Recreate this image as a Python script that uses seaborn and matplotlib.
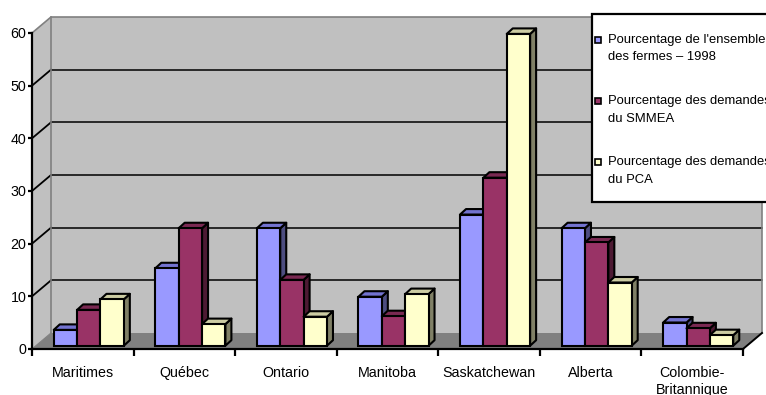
import numpy as np
import pandas as pd
import matplotlib.pyplot as plt
import seaborn as sns
from matplotlib.patches import Polygon, Rectangle

# ------------------------- DONNEES -------------------------

regions = ["Maritimes", "Québec", "Ontario", "Manitoba", "Saskatchewan",
           "Alberta", "Colombie-\nBritannique"]
fermes_1998 = [3.0, 14.7, 22.3, 9.3, 24.9, 22.3, 4.4]
demandes_smmea = [6.8, 22.3, 12.5, 5.6, 31.9, 19.6, 3.3]
demandes_pca = [8.8, 4.1, 5.5, 9.8, 59.2, 12.0, 2.0]
series = ["Pourcentage de l'ensemble\ndes fermes \u2013 1998",
          "Pourcentage des demandes\ndu SMMEA",
          "Pourcentage des demandes\ndu PCA"]
y_ticks = [0, 10, 20, 30, 40, 50, 60]

front_colors = ["#9999FF", "#993366", "#FFFFCC"]
top_colors = ["#7373D0", "#7A2952", "#CCCCA3"]
side_colors = ["#4D4D80", "#4D1A33", "#808066"]

df = pd.DataFrame({
    "region": regions * 3,
    "valeur": fermes_1998 + demandes_smmea + demandes_pca,
    "serie": np.repeat(series, len(regions)),
})

plt.rcParams['font.family'] = ['Liberation Sans', 'DejaVu Sans']

W, H = 766, 395
fig = plt.figure(figsize=(W / 100, H / 100), dpi=100, facecolor="white")
# axe avant : x 32 -> 743 px, y 0 -> 349 px, 60 -> 33 px
ax = fig.add_axes([32 / W, (H - 349) / H, 711 / W, 316 / H])
ax.patch.set_visible(False)

n = len(regions)
px_x = 711 / n
px_y = 316 / 60


def d(dx, dy):
    return dx / px_x, dy / px_y


sns.barplot(data=df, x="region", y="valeur", hue="serie", palette=front_colors,
            width=0.69, saturation=1, edgecolor="black", linewidth=1.5,
            legend=False, ax=ax)
bars = list(ax.patches)

ax.set_xlim(-0.5, n - 0.5)
ax.set_ylim(0, 60)

# ------------------------- PAROIS (effet 3D) -------------------------
wx, wy = d(19, 16)
x_left, x_right = -0.5, n - 0.5

ax.add_patch(Rectangle((x_left + wx, wy), n, 60, facecolor="#C0C0C0",
                       edgecolor="none", clip_on=False, zorder=0))
ax.add_patch(Polygon([(x_left, 0), (x_left, 60), (x_left + wx, 60 + wy), (x_left + wx, wy)],
                     closed=True, facecolor="#C0C0C0", edgecolor="none", clip_on=False, zorder=0))
ax.add_patch(Polygon([(x_left, 0), (x_right, 0), (x_right + wx, wy), (x_left + wx, wy)],
                     closed=True, facecolor="#808080", edgecolor="none", clip_on=False, zorder=0.5))

for v in y_ticks[1:-1]:
    ax.plot([x_left + wx, x_right + wx], [v + wy, v + wy], color="black", lw=1.1,
            clip_on=False, zorder=1)
    ax.plot([x_left, x_left + wx], [v, v + wy], color="black", lw=1.3, clip_on=False, zorder=1)

gray = "#808080"
ax.plot([x_left, x_left + wx, x_right + wx, x_right + wx], [60, 60 + wy, 60 + wy, wy],
        color=gray, lw=1.2, clip_on=False, zorder=1)
ax.plot([x_left + wx, x_left + wx], [wy, 60 + wy], color=gray, lw=1.2, clip_on=False, zorder=1)
ax.plot([x_left, x_left + wx], [0, wy], color=gray, lw=0.8, clip_on=False, zorder=1)
ax.plot([x_right, x_right + wx], [0, wy], color="black", lw=1.4, clip_on=False, zorder=1)

# ------------------------- BARRES 3D -------------------------
sx, sy = d(6, 3.3)
bx, by = d(6, 5.5)
order = sorted(range(len(bars)), key=lambda k: bars[k].get_x())
for rank, k in enumerate(order):
    p = bars[k]
    s = k // n
    h = p.get_height()
    p.set_x(p.get_x() + sx)
    p.set_y(sy)
    x0, x1 = p.get_x(), p.get_x() + p.get_width()
    y0, y1 = sy, sy + h
    base_z = 2 + rank * 3
    ax.add_patch(Polygon([(x1, y0), (x1, y1), (x1 + bx, y1 + by), (x1 + bx, y0 + by)],
                         closed=True, facecolor=side_colors[s], edgecolor="black",
                         lw=1.5, joinstyle="round", clip_on=False, zorder=base_z))
    ax.add_patch(Polygon([(x0, y1), (x1, y1), (x1 + bx, y1 + by), (x0 + bx, y1 + by)],
                         closed=True, facecolor=top_colors[s], edgecolor="black",
                         lw=1.5, joinstyle="round", clip_on=False, zorder=base_z + 1))
    p.set_zorder(base_z + 2)
    p.set_clip_on(False)

# ------------------------- AXES -------------------------
for side in ["top", "right"]:
    ax.spines[side].set_visible(False)
for side in ["left", "bottom"]:
    ax.spines[side].set_linewidth(1.6)
    ax.spines[side].set_zorder(60)

ax.set_yticks(y_ticks)
ax.tick_params(axis="y", direction="out", length=3, width=1.6, labelsize=10.3, pad=1)
ax.set_xticks(range(n))
ax.set_xticklabels(regions, fontsize=10.3)
ax.set_xticks(np.arange(-0.5, n, 1), minor=True)
ax.tick_params(axis="x", which="major", length=0, pad=12.5)
ax.tick_params(axis="x", which="minor", direction="out", length=5, width=1.6)
ax.set_xlabel("")
ax.set_ylabel("")

# ------------------------- LEGENDE -------------------------
def fx(x):
    return x / W


def fy(y):
    return (H - y) / H


fig.add_artist(Rectangle((fx(592), fy(202)), fx(200), 188 / H, transform=fig.transFigure,
                         facecolor="white", edgecolor="black", lw=1.6, zorder=100))
entry_y = [40, 101, 162.3]
for s, name in enumerate(series):
    y = entry_y[s]
    fig.add_artist(Rectangle((fx(595), fy(y + 3)), 6 / W, 6 / H, transform=fig.transFigure,
                             facecolor=front_colors[s], edgecolor="black", lw=1.2, zorder=101))
    for j, line in enumerate(name.split("\n")):
        fig.text(fx(608.5), fy(y + j * 17.5), line, fontsize=9.4, va="center", ha="left",
                 zorder=102)

fig.savefig("out.png", dpi=100, facecolor="white")
